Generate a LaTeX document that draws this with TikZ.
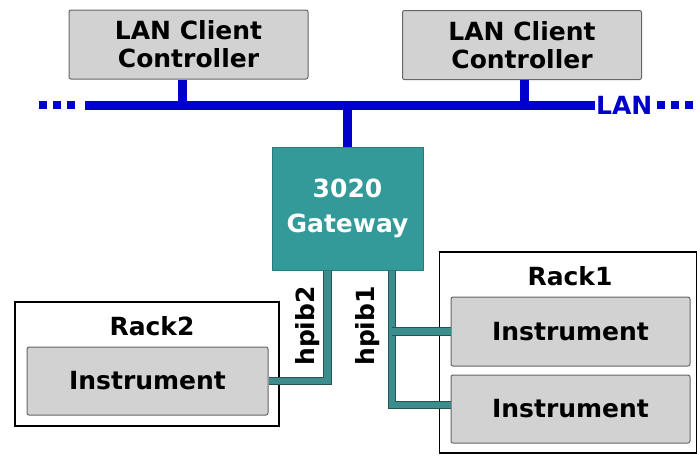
\documentclass[tikz,border=0pt]{standalone}
\usepackage{fontspec}
\setmainfont{DejaVu Sans}
\definecolor{lanblue}{RGB}{0,0,204}
\definecolor{gwteal}{RGB}{51,153,153}
\definecolor{hpteal}{RGB}{60,142,142}
\definecolor{boxgray}{RGB}{210,210,210}
\begin{document}
\begin{tikzpicture}[x=1pt,y=-1pt,
  font=\fontsize{25}{28}\selectfont\bfseries,
  client/.style={draw=gray!80!black,fill=boxgray,rounded corners=2pt,line width=1pt,
    minimum width=239pt,minimum height=69pt,align=center,inner sep=0pt},
  rack/.style={draw=black,fill=white,line width=1.5pt,inner sep=0pt},
  gateway/.style={draw=gwteal!80!black,fill=gwteal,text=white,line width=1pt,
    minimum width=151pt,minimum height=123pt,align=center,inner sep=0pt,
    font=\fontsize{25}{35}\selectfont\bfseries},
  lanbus/.style={draw=lanblue,line width=9pt},
  hpib/.style={draw=hpteal!60!black,line width=0.8pt,double=hpteal,double distance=6.5pt}
]
\useasboundingbox (0,0) rectangle (697,456);
\fill[white] (0,0) rectangle (697,456);
% racks first
\node[rack,minimum width=264pt,minimum height=124pt] (rack2) at (147,364) {};
\node[rack,minimum width=257pt,minimum height=201pt] (rack1) at (568,352.5) {};
\node (rack2lbl) at (152,326) {Rack2};
\node (rack1lbl) at (570,276) {Rack1};
% boxes
\node[client] (lan1) at (188.5,44.5) {LAN Client\\Controller};
\node[client] (lan2) at (522,45) {LAN Client\\Controller};
\node[gateway] (gw) at (347.5,208.5) {3020\\Gateway};
\node[client,minimum width=241pt,minimum height=68pt] (inst3) at (147.5,381) {Instrument};
\node[client,minimum height=69pt] (inst1) at (570.5,331.5) {Instrument};
\node[client,minimum height=68pt] (inst2) at (570.5,409) {Instrument};
% LAN bus
\coordinate (busl) at (85,105);
\coordinate (busr) at (595,105);
\draw[lanbus] (busl) -- (busr);
\draw[lanbus] ([xshift=-6.5pt]lan1.south) -- ([xshift=-6.5pt]lan1.south |- busl);
\draw[lanbus] ([xshift=2pt]lan2.south) -- ([xshift=2pt]lan2.south |- busl);
\draw[lanbus] (gw.north) -- (gw.north |- busl);
\node[anchor=west,text=lanblue,inner sep=1pt] (lanlbl) at (busr) {LAN};
\foreach \x in {39,53,67} {
\fill[lanblue] (\x,101) rectangle ++(8,8);
}
\foreach \x in {657,671,685} {
\fill[lanblue] (\x,101) rectangle ++(8,8);
}
% hpib cables
\draw[hpib] ([xshift=-20pt]gw.south) |- (inst3.east);
\draw[hpib] ([xshift=44.5pt]gw.south) |- ([yshift=4pt]inst2.west);
\draw[hpib] ([xshift=44.5pt]gw.south |- inst1.west) -- (inst1.west);
\node[rotate=90] (hp2lbl) at (308,326) {hpib2};
\node[rotate=90] (hp1lbl) at (368,326) {hpib1};
\end{tikzpicture}
\end{document}
